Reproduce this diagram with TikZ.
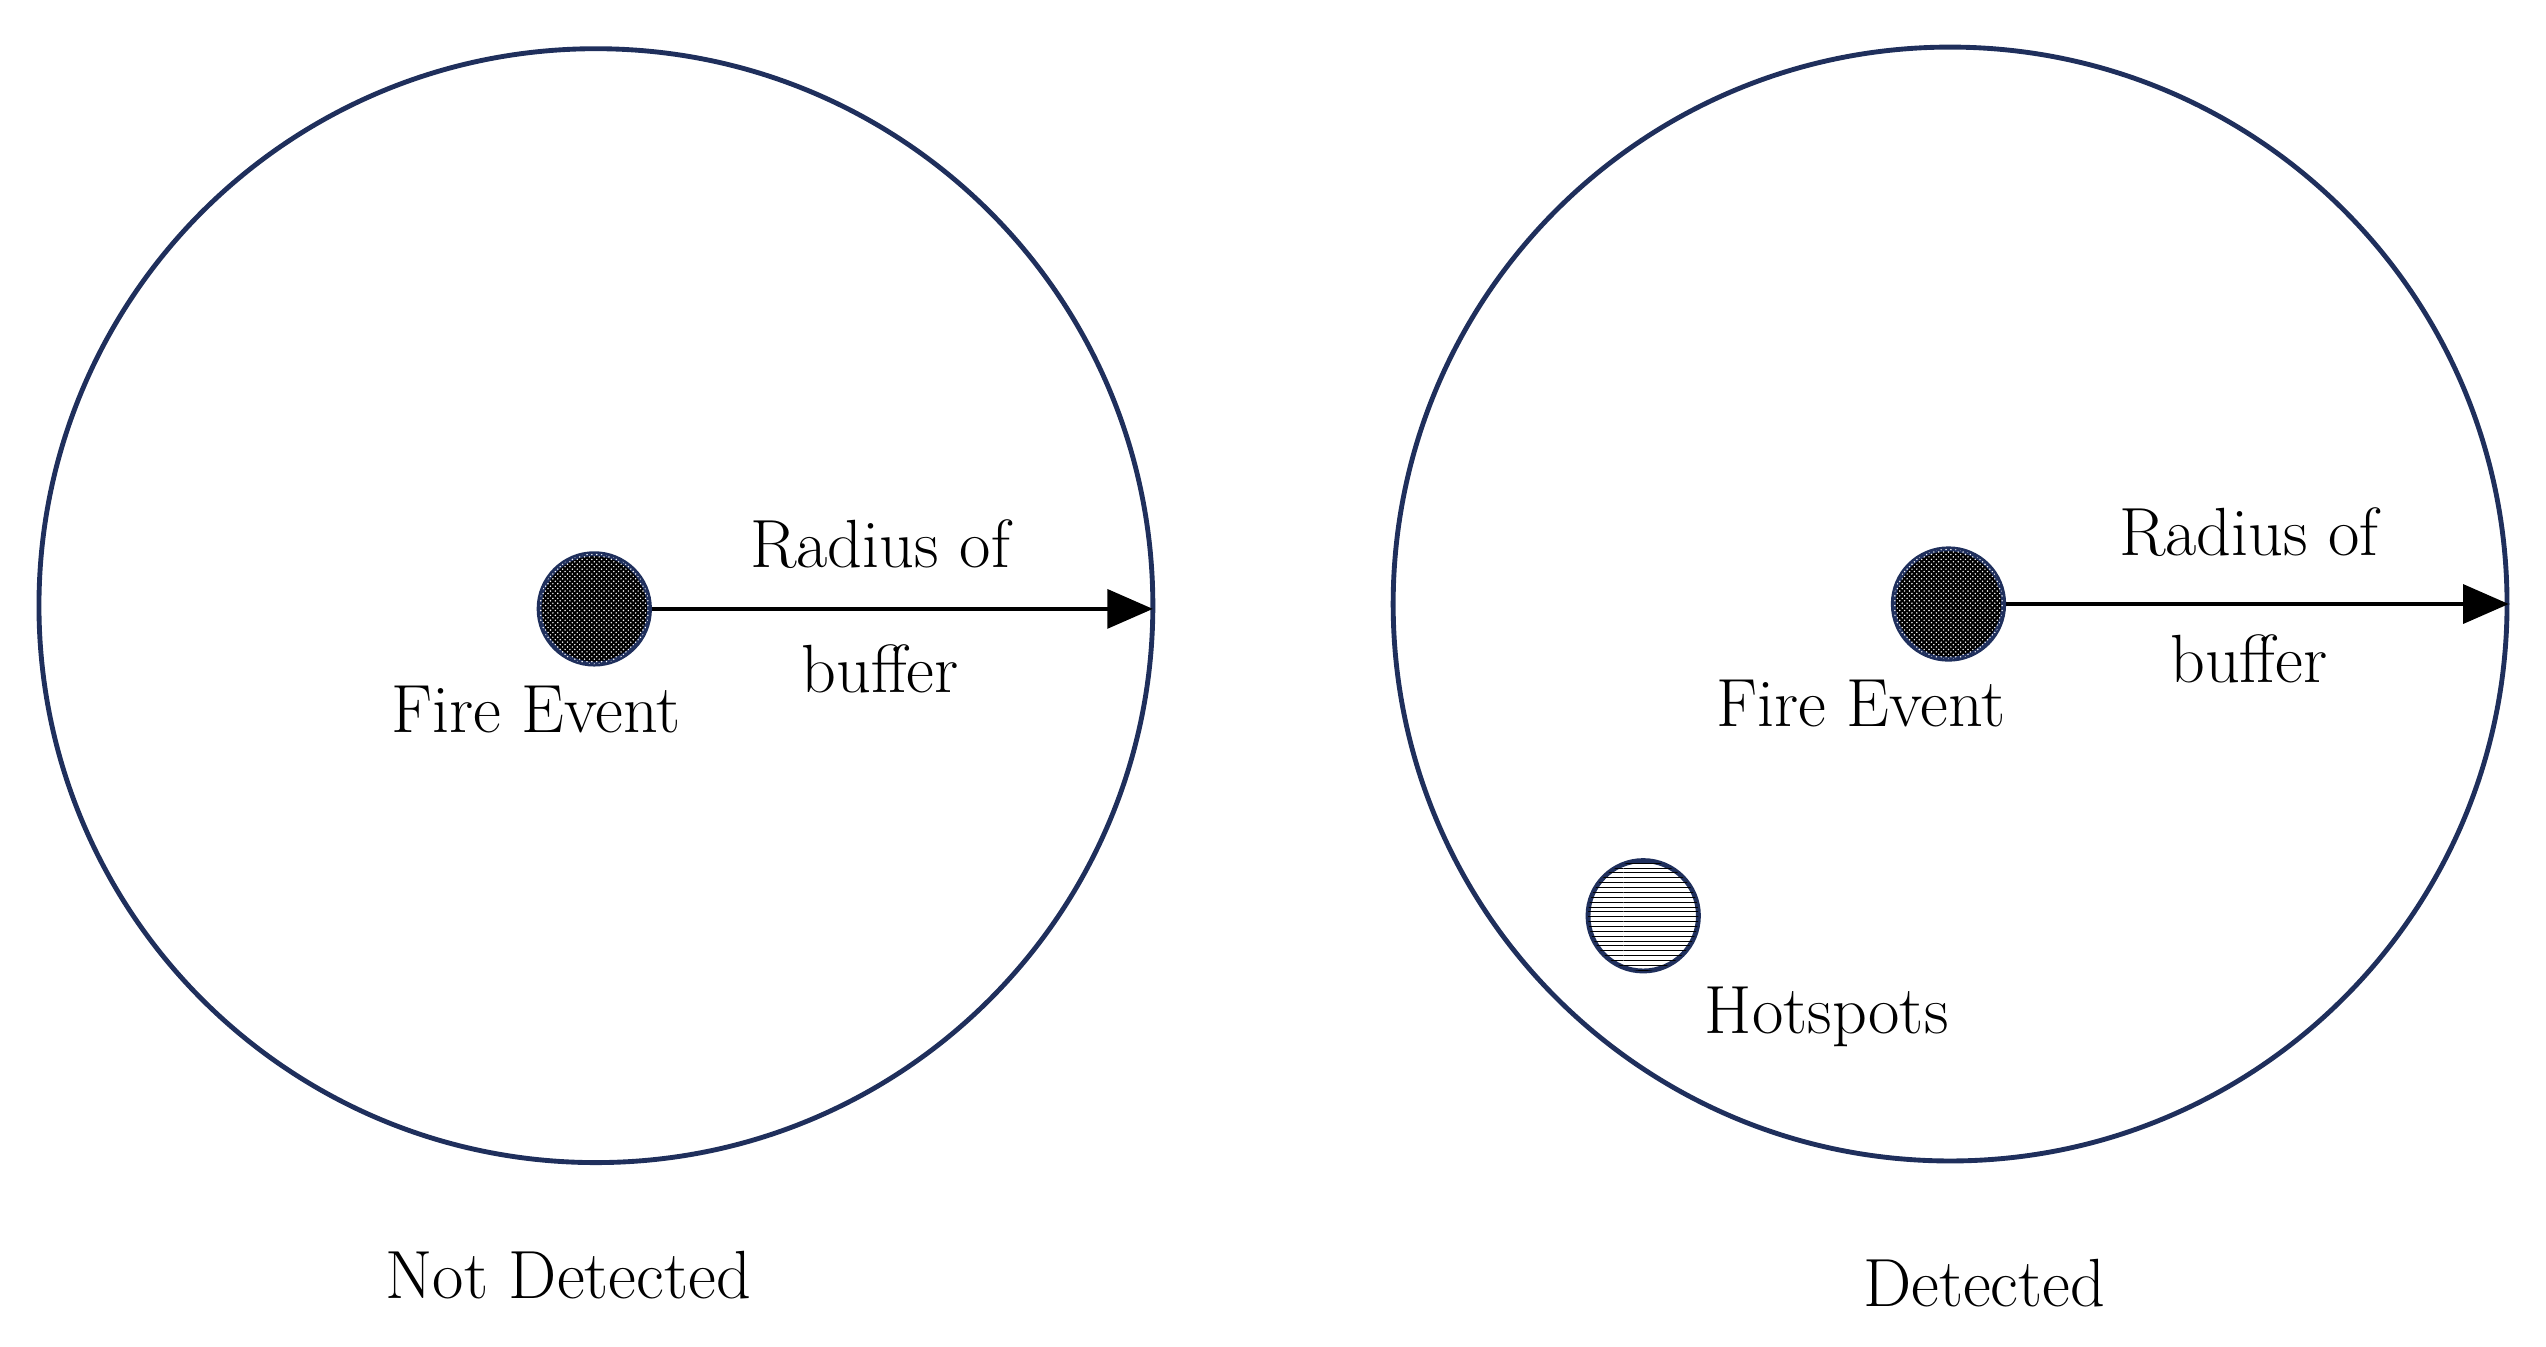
\documentclass[tikz,border=0pt]{standalone}
\usetikzlibrary{patterns,arrows.meta}
\definecolor{navy}{RGB}{31,47,92}
\begin{document}
\begin{tikzpicture}[x=1pt,y=-1pt,
  ring/.style={draw=navy,line width=3pt,circle,minimum size=686pt,inner sep=0pt},
  fire/.style={circle,draw=navy,line width=3pt,fill=black,minimum size=68pt,inner sep=0pt,
    postaction={pattern=crosshatch dots,pattern color=white}},
  hot/.style={circle,draw=navy,line width=3pt,fill=white,minimum size=68pt,inner sep=0pt,
    postaction={pattern=horizontal lines,pattern color=black}},
  lbl/.style={font=\fontsize{42}{50}\selectfont,inner sep=0pt},
  arr/.style={line width=2pt,-{Triangle[length=28pt,width=24pt]}}]
\useasboundingbox (0,0) rectangle (1568,829);
% left
\node[ring] (c1) at (367,373) {};
\node[fire] (f1) at (366,375) {};
\coordinate (e1) at (710,375);
\draw[arr] (f1.east) -- (e1);
\node[lbl] (r1) at (542,335) {Radius of};
\node[lbl] (b1) at (542,412) {buffer};
\node[lbl] (fe1) at (330,437) {Fire Event};
\node[lbl] (t1) at (350,785) {Not Detected};
% right
\node[ring] (c2) at (1201,372) {};
\node[fire] (f2) at (1200,372) {};
\coordinate (e2) at (1545,372);
\draw[arr] (f2.east) -- (e2);
\node[lbl] (r2) at (1385,328) {Radius of};
\node[lbl] (b2) at (1385,406) {buffer};
\node[lbl] (fe2) at (1146,433) {Fire Event};
\node[hot] (h2) at (1012,564) {};
\node[lbl] (hl) at (1125,626) {Hotspots};
\node[lbl] (t2) at (1222,790) {Detected};
\end{tikzpicture}
\end{document}
